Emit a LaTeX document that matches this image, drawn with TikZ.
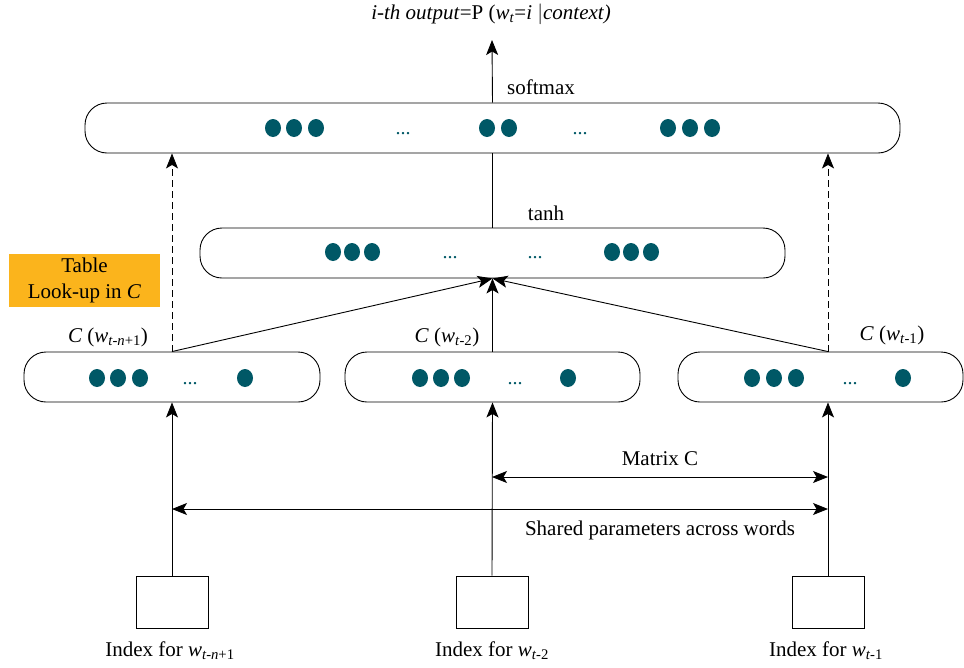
\documentclass[tikz,border=0pt]{standalone}
\usepackage{fontspec}
\setmainfont{Liberation Serif}
\usetikzlibrary{arrows.meta,calc}
\definecolor{dotteal}{RGB}{0,88,102}
\definecolor{tableorange}{RGB}{251,180,28}
\newcommand\wsub[1]{\textit{w}\textsubscript{#1}}
\tikzset{tip/.tip={Stealth[length=15pt,width=12pt,inset=3.5pt]}}
\begin{document}
\begin{tikzpicture}[x=1pt,y=-1pt,
  font=\fontsize{21}{24}\selectfont,
  layer/.style={draw,line width=0.9pt,rounded corners=22pt,minimum height=50pt,inner sep=0pt},
  idxbox/.style={draw,line width=0.9pt,minimum width=72pt,minimum height=52pt,inner sep=0pt},
  conn/.style={line width=0.9pt,-tip},
  dconn/.style={line width=0.9pt,dash pattern=on 7pt off 4pt,-tip},
  both/.style={line width=0.9pt,tip-tip},
  lbl/.style={inner sep=0pt},
  ell/.style={text=dotteal,font=\fontsize{20}{22}\selectfont,inner sep=0pt}]
\useasboundingbox (0,0) rectangle (964,667);

% layer boxes
\node[layer,minimum width=815pt] (top) at (492.5,128) {};
\node[layer,minimum width=585pt] (hid) at (492.5,253) {};
\node[layer,minimum width=296pt] (r1) at (172,377) {};
\node[layer,minimum width=295pt] (r2) at (492.5,377) {};
\node[layer,minimum width=285pt] (r3) at (820.5,377) {};

% index boxes
\node[idxbox] (i1) at (172,602) {};
\node[idxbox] (i2) at (492,602) {};
\node[idxbox] (i3) at (828,602) {};

% unit dots
\foreach \x/\y in {273/128,294/128,316/128,487/128,509/128,668/128,690/128,712/128,
                   333/252,352/252,372/252,612/252,631/252,651/252,
                   97/378,118/378,140/378,245/378,
                   420/378,441/378,462/378,568/378,
                   752/378,774/378,796/378,903/378}
  \fill[dotteal] (\x,\y) ellipse [x radius=8pt,y radius=9pt];
\node[ell] (e1) at (403,134) {...};
\node[ell] (e2) at (580,134) {...};
\node[ell] (e3) at (450,258) {...};
\node[ell] (e4) at (535,258) {...};
\node[ell] (e5) at (190,384) {...};
\node[ell] (e6) at (515,384) {...};
\node[ell] (e7) at (850,384) {...};

% texts
\node[lbl] (out) at (491,14) {\textit{i-th output}=P (\wsub{\textit{t}}=\textit{i} $\vert$\textit{context)}};
\node[lbl] (sm) at (541,87) {softmax};
\node[lbl] (th) at (546,213) {tanh};
\node[lbl] (c1) at (108,337) {\textit{C} (\wsub{\textit{t-n}+1})};
\node[lbl] (c2) at (447,337) {\textit{C} (\wsub{\textit{t}-2})};
\node[lbl] (c3) at (892,335) {\textit{C} (\wsub{\textit{t}-1})};
\node[fill=tableorange,minimum width=151pt,minimum height=53pt,inner sep=0pt,align=center,
      font=\fontsize{21}{26}\selectfont] (tab) at (84.5,280.5) {Table\\Look-up in \textit{C}};
\node[lbl] (mc) at (660,459) {Matrix C};
\node[lbl] (sp) at (660,530) {Shared parameters across words};
\node[lbl] (n1) at (170,651) {Index for \wsub{\textit{t-n}+1}};
\node[lbl] (n2) at (492,651) {Index for \wsub{\textit{t}-2}};
\node[lbl] (n3) at (826,651) {Index for \wsub{\textit{t}-1}};

% output arrow
\coordinate (o) at (492,40);
\draw[conn] (top.north) -- (o);
\draw[line width=0.9pt] (hid.north) -- (top.south);

% projections into the hidden layer
\draw[conn] (r1.north) -- (hid.south);
\draw[conn] (r2.north) -- (hid.south);
\draw[conn] (r3.north -| i3) -- (hid.south);

% direct connections to the output layer
\draw[dconn] (r1.north) -- (top.south -| r1.north);
\draw[dconn] (r3.north -| i3) -- (top.south -| i3);

% word indices into the look-up rows
\draw[conn] (i1.north) -- (r1.south);
\draw[conn] (i2.north) -- (r2.south);
\draw[conn] (i3.north) -- (r3.south -| i3);

% shared matrix arrows
\coordinate (m1) at (492,477);
\coordinate (m2) at (828,477);
\coordinate (s1) at (172,509);
\coordinate (s2) at (828,509);
\draw[both] (m1) -- (m2);
\draw[both] (s1) -- (s2);
\end{tikzpicture}
\end{document}
